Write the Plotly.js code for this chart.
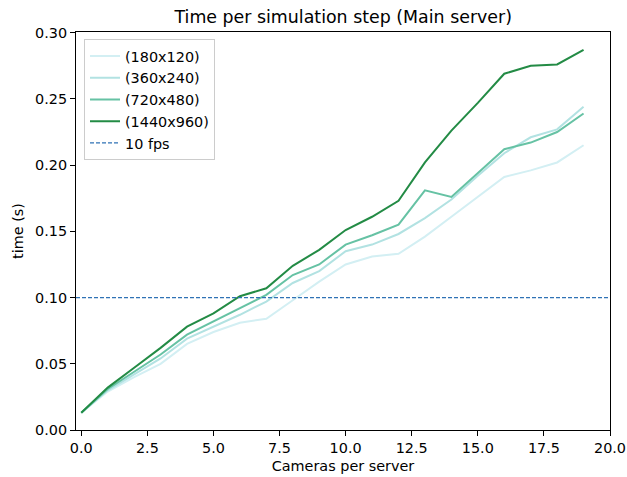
<!DOCTYPE html>
<html>
<head>
<meta charset="utf-8">
<script src="https://cdn.plot.ly/plotly-3.0.1.min.js"></script>
<style>html,body{margin:0;padding:0;background:#fff;}#chart{width:627px;height:477px;}</style>
</head>
<body>
<div id="chart"></div>
<script>
const cameras = [0,1,2,3,4,5,6,7,8,9,10,11,12,13,14,15,16,17,18,19];
const labels = ["(180x120)", "(360x240)", "(720x480)", "(1440x960)"];
const t180 = [0.013,0.029,0.040,0.050,0.065,0.074,0.081,0.084,0.098,0.112,0.125,0.131,0.133,0.146,0.161,0.176,0.191,0.196,0.202,0.215];
const t360 = [0.013,0.030,0.042,0.054,0.069,0.078,0.087,0.097,0.111,0.120,0.135,0.140,0.148,0.160,0.174,0.192,0.209,0.221,0.227,0.244];
const t720 = [0.013,0.031,0.044,0.057,0.072,0.082,0.092,0.102,0.117,0.125,0.140,0.147,0.155,0.181,0.176,0.194,0.212,0.217,0.225,0.239];
const t1440 = [0.013,0.032,0.047,0.062,0.078,0.088,0.101,0.107,0.124,0.136,0.151,0.161,0.173,0.202,0.226,0.247,0.269,0.275,0.276,0.287];
const fpsLabel = "10 fps";
const fpsTime = [0.1, 0.1];
const xLimits = [-0.2, 20];
const yLimits = [0, 0.3005];

const colors = ["#d3eff3", "#b2e2e2", "#66c2a4", "#238b45"];
const series = [t180, t360, t720, t1440];
const font = "DejaVu Sans, sans-serif";
const fs = 14.4;

const traces = series.map((s, i) => ({
  x: cameras, y: s, name: labels[i], type: "scatter", mode: "lines",
  line: {color: colors[i], width: 2}
}));
traces.push({
  x: xLimits, y: fpsTime, name: fpsLabel, type: "scatter", mode: "lines",
  line: {color: "#2f72b5", width: 1.2, dash: "4px,2px"}
});

const layout = {
  width: 627, height: 477,
  margin: {l: 76, r: 17, t: 32, b: 47},
  paper_bgcolor: "#fff", plot_bgcolor: "#fff",
  font: {family: font, size: fs, color: "#000"},
  title: {text: "Time per simulation step (Main server)", font: {family: font, size: 17.4, color: "#000"},
          x: 0.5474, xanchor: "center", y: 0.965, yanchor: "middle"},
  xaxis: {
    range: xLimits, dtick: 2.5, tick0: 0, tickformat: ".1f",
    showgrid: false, zeroline: false, showline: true, mirror: true,
    linecolor: "#000", linewidth: 1, ticks: "outside", ticklen: 5, tickcolor: "#000",
    tickfont: {family: font, size: fs, color: "#000"},
    title: {text: "Cameras per server", font: {family: font, size: fs, color: "#000"}, standoff: 5}
  },
  yaxis: {
    range: yLimits, dtick: 0.05, tick0: 0, tickformat: ".2f",
    showgrid: false, zeroline: false, showline: true, mirror: true,
    linecolor: "#000", linewidth: 1, ticks: "outside", ticklen: 5, tickcolor: "#000",
    tickfont: {family: font, size: fs, color: "#000"},
    title: {text: "time (s)", font: {family: font, size: fs, color: "#000"}, standoff: 8}
  },
  legend: {
    x: 0.015, y: 0.982, xanchor: "left", yanchor: "top",
    bgcolor: "rgba(255,255,255,0.8)", bordercolor: "#cccccc", borderwidth: 1,
    font: {family: font, size: fs, color: "#000"}, tracegroupgap: 0
  },
  showlegend: true
};

Plotly.newPlot("chart", traces, layout, {displayModeBar: false, staticPlot: true});
</script>
</body>
</html>
